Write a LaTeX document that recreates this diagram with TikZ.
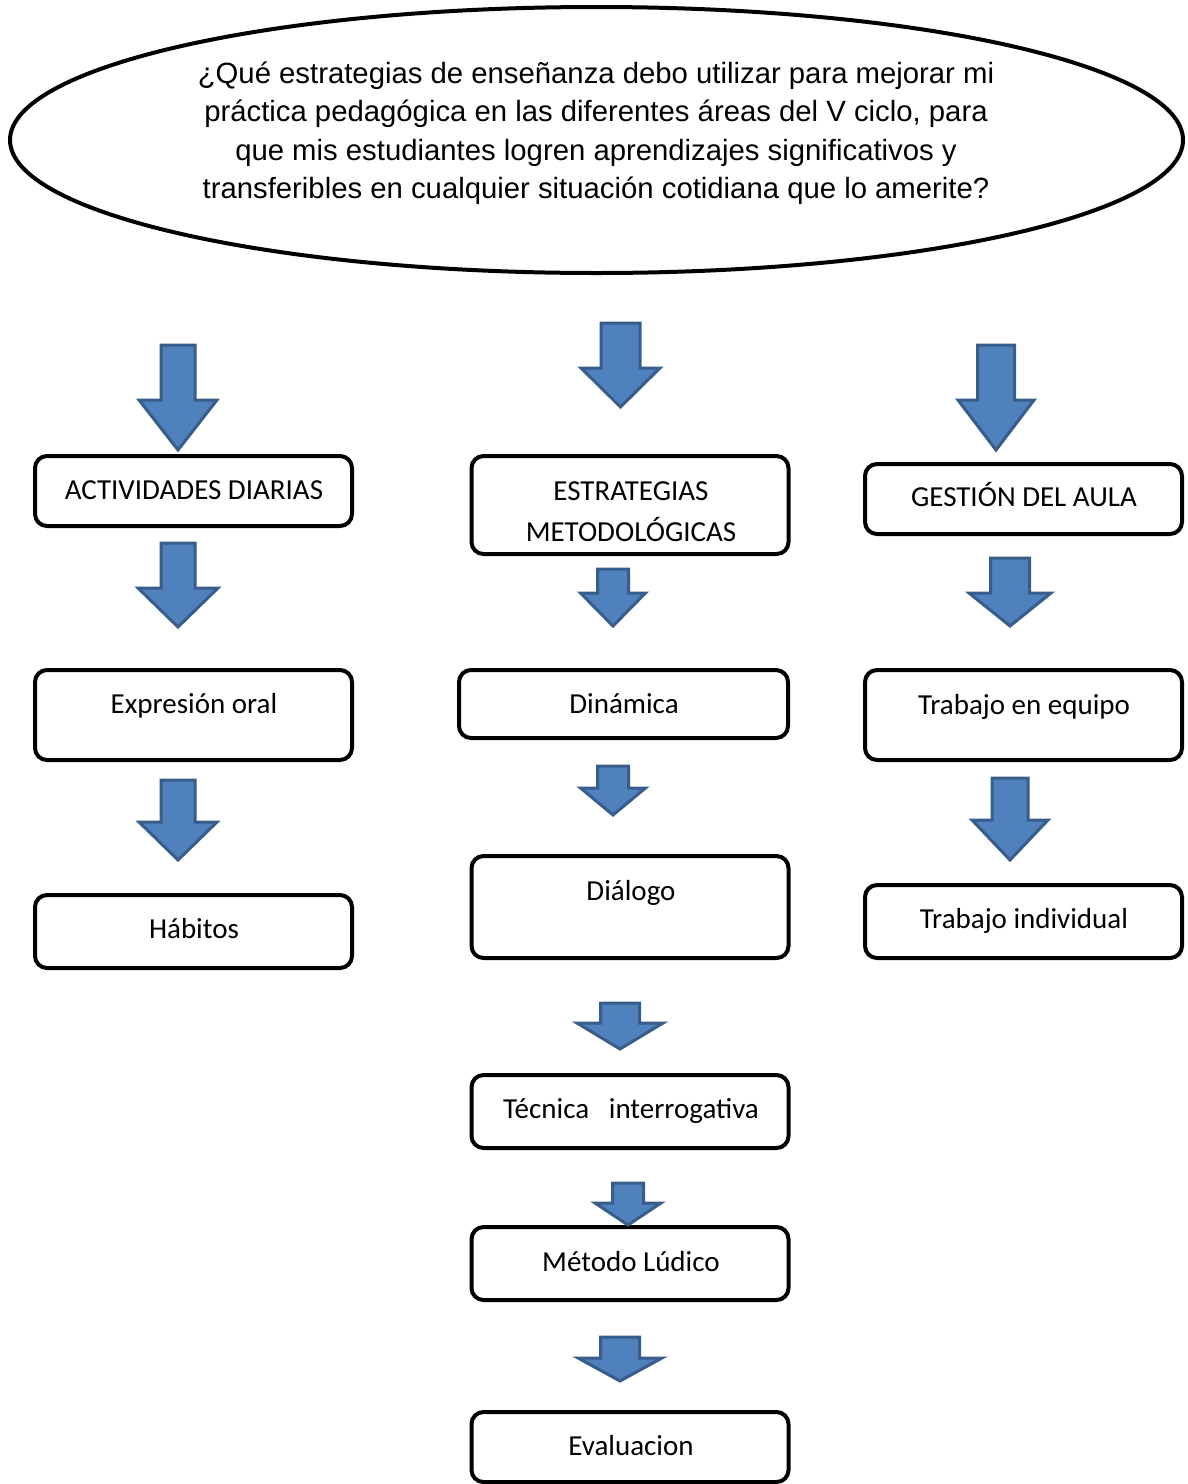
\documentclass[tikz,border=0pt]{standalone}
\usepackage{fontspec}
\usepackage{tikz}
\usetikzlibrary{shapes.geometric}
\newfontfamily\arialfont{Liberation Sans}
\newfontfamily\calfont{Carlito}
\definecolor{arrowfill}{HTML}{4F81BD}
\definecolor{arrowline}{HTML}{385D8A}
\tikzset{
	blockarrow/.style={fill=arrowfill,draw=arrowline,line width=3pt,line join=miter},
	box/.style={draw,line width=4pt,rounded corners=12pt,minimum width=317pt},
	boxtext/.style={font=\calfont\fontsize{29}{35}\selectfont,anchor=base,inner sep=0pt}
}
\newcommand{\bluearrow}[6]{%
	\draw[blockarrow] (#1-#5,#2) -- (#1+#5,#2) -- (#1+#5,#3) -- (#1+#6,#3)
	-- (#1,#4) -- (#1-#6,#3) -- (#1-#5,#3) -- cycle;}

\begin{document}
\begin{tikzpicture}[x=1pt,y=-1pt]
		\useasboundingbox (0,0) rectangle (1187,1484);
		\node[draw,line width=4pt,ellipse,minimum width=1173pt,minimum height=266pt] (q) at (596.5,140) {};
		\node[font=\arialfont\fontsize{29.3}{38.5}\selectfont,align=center,inner sep=0pt] (qt) at (596,133)
		{¿Qué estrategias de enseñanza debo utilizar para mejorar mi\\
		práctica pedagógica en las diferentes áreas del V ciclo, para\\
		que mis estudiantes logren aprendizajes significativos y\\
		transferibles en cualquier situación cotidiana que lo amerite?};

		\node[box,minimum height=70pt] (act) at (193.5,491) {};
		\node[box,minimum height=90pt] (expr) at (193.5,715) {};
		\node[box,minimum height=73pt] (hab) at (193.5,931.5) {};
		\node[box,minimum height=98pt] (estr) at (630,505) {};
		\node[box,minimum width=329pt,minimum height=68pt] (din) at (623.5,704) {};
		\node[box,minimum height=102pt] (dial) at (630,907) {};
		\node[box,minimum height=73pt] (tec) at (630,1111.5) {};
		\node[box,minimum height=73pt] (met) at (630,1263.5) {};
		\node[box,minimum height=70pt] (eva) at (630,1447) {};
		\node[box,minimum height=70pt] (ges) at (1023.5,499) {};
		\node[box,minimum height=90pt] (equ) at (1023.5,715) {};
		\node[box,minimum height=73pt] (ind) at (1023.5,921.5) {};

		\node[boxtext] (actt) at (194,499) {ACTIVIDADES DIARIAS};
		\node[boxtext] (exprt) at (194,713) {Expresión oral};
		\node[boxtext] (habt) at (194,938) {Hábitos};
		\node[boxtext] (estrt) at (631,500) {ESTRATEGIAS};
		\node[boxtext] (estrt2) at (631,541) {METODOLÓGICAS};
		\node[boxtext] (dint) at (624,713) {Dinámica};
		\node[boxtext] (dialt) at (631,900) {Diálogo};
		\node[boxtext] (tect) at (631,1118) {Técnica\ \ \ interrogativa};
		\node[boxtext] (mett) at (631,1271) {Método Lúdico};
		\node[boxtext] (evat) at (631,1455) {Evaluacion};
		\node[boxtext] (gest) at (1024,506) {GESTIÓN DEL AULA};
		\node[boxtext] (equt) at (1024,714) {Trabajo en equipo};
		\node[boxtext] (indt) at (1024,928) {Trabajo individual};

		\bluearrow{178}{345}{400}{450}{17}{39}
		\bluearrow{178}{543}{588}{627}{17}{40}
		\bluearrow{178}{780}{822}{860}{17}{39}
		\bluearrow{620.5}{323}{368}{407}{19.5}{39.5}
		\bluearrow{613}{569}{593}{626}{15.5}{32.5}
		\bluearrow{613}{766}{788}{815}{15.5}{32.5}
		\bluearrow{620}{1003}{1023}{1049}{19.5}{43}
		\bluearrow{628}{1183}{1203}{1225}{15.5}{33}
		\bluearrow{620}{1337}{1358}{1381}{19.5}{42}
		\bluearrow{996}{345}{400}{450}{18.5}{38}
		\bluearrow{1010}{558}{593}{626}{19.5}{41}
		\bluearrow{1010}{778}{820}{860}{18}{38}
	\end{tikzpicture}
\end{document}
